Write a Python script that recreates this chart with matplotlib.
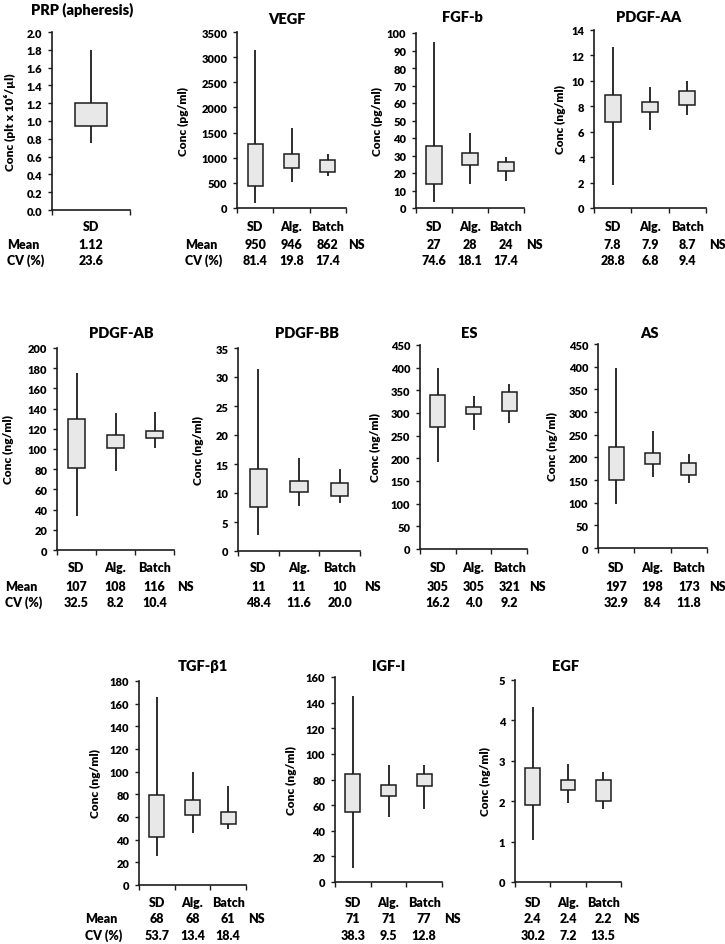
import matplotlib
matplotlib.use("Agg")
import matplotlib.pyplot as plt
from matplotlib.transforms import blended_transform_factory
from matplotlib.ticker import FormatStrFormatter
import numpy as np

plt.rcParams['font.family'] = ['Lato', 'DejaVu Sans']
WT = 800
plt.rcParams['font.weight'] = WT

W, H = 725, 945

# ---------------- data ----------------
groups = ["SD", "Alg.", "Batch"]
panels = ["PRP", "VEGF", "FGF-b", "PDGF-AA", "PDGF-AB", "PDGF-BB",
          "ES", "AS", "TGF", "IGF-I", "EGF"]
titles = {"PRP": "PRP (apheresis)", "VEGF": "VEGF", "FGF-b": "FGF-b",
          "PDGF-AA": "PDGF-AA", "PDGF-AB": "PDGF-AB", "PDGF-BB": "PDGF-BB",
          "ES": "ES", "AS": "AS", "TGF": "TGF-β1", "IGF-I": "IGF-I", "EGF": "EGF"}
ylabels = {"PRP": "Conc (plt x 10⁶/µl)", "VEGF": "Conc (pg/ml)", "FGF-b": "Conc (pg/ml)",
           "PDGF-AA": "Conc (ng/ml)", "PDGF-AB": "Conc (ng/ml)", "PDGF-BB": "Conc (ng/ml)",
           "ES": "Conc (ng/ml)", "AS": "Conc (ng/ml)", "TGF": "Conc (ng/ml)",
           "IGF-I": "Conc (ng/ml)", "EGF": "Conc (ng/ml)"}
ymax = {"PRP": 2.0, "VEGF": 3500, "FGF-b": 100, "PDGF-AA": 14, "PDGF-AB": 200,
        "PDGF-BB": 35, "ES": 450, "AS": 450, "TGF": 180, "IGF-I": 160, "EGF": 5}
ystep = {"PRP": 0.2, "VEGF": 500, "FGF-b": 10, "PDGF-AA": 2, "PDGF-AB": 20,
         "PDGF-BB": 5, "ES": 50, "AS": 50, "TGF": 20, "IGF-I": 20, "EGF": 1}

low = {"PRP": [0.75], "VEGF": [100, 510, 640], "FGF-b": [3.5, 14, 15.5],
       "PDGF-AA": [1.8, 6.15, 7.35], "PDGF-AB": [34, 78, 101], "PDGF-BB": [2.8, 7.8, 8.2],
       "ES": [192, 263, 277], "AS": [97, 157, 143], "TGF": [26, 46, 49],
       "IGF-I": [11, 51, 57], "EGF": [1.04, 1.96, 1.81]}
q1 = {"PRP": [0.94], "VEGF": [440, 800, 720], "FGF-b": [14, 24.5, 21],
      "PDGF-AA": [6.8, 7.55, 8.1], "PDGF-AB": [81, 101, 111], "PDGF-BB": [7.6, 10.2, 9.4],
      "ES": [270, 297, 304], "AS": [149, 186, 162], "TGF": [42, 62, 54],
      "IGF-I": [55, 67, 75], "EGF": [1.9, 2.28, 2.0]}
q3 = {"PRP": [1.2], "VEGF": [1280, 1070, 960], "FGF-b": [35.5, 31.5, 26.5],
      "PDGF-AA": [8.9, 8.3, 9.2], "PDGF-AB": [130, 114, 118], "PDGF-BB": [14.1, 12.0, 11.8],
      "ES": [340, 314, 347], "AS": [222, 209, 187], "TGF": [79, 75, 64],
      "IGF-I": [84, 76, 84], "EGF": [2.83, 2.52, 2.52]}
high = {"PRP": [1.8], "VEGF": [3150, 1590, 1080], "FGF-b": [95, 43, 29],
        "PDGF-AA": [12.7, 9.5, 10.0], "PDGF-AB": [175, 136, 137], "PDGF-BB": [31.3, 16.1, 14.1],
        "ES": [400, 337, 365], "AS": [396, 259, 208], "TGF": [166, 100, 87],
        "IGF-I": [145, 91, 91], "EGF": [4.32, 2.92, 2.72]}
means = {"PRP": ["1.12"], "VEGF": ["950", "946", "862"], "FGF-b": ["27", "28", "24"],
         "PDGF-AA": ["7.8", "7.9", "8.7"], "PDGF-AB": ["107", "108", "116"],
         "PDGF-BB": ["11", "11", "10"], "ES": ["305", "305", "321"],
         "AS": ["197", "198", "173"], "TGF": ["68", "68", "61"],
         "IGF-I": ["71", "71", "77"], "EGF": ["2.4", "2.4", "2.2"]}
cvs = {"PRP": ["23.6"], "VEGF": ["81.4", "19.8", "17.4"], "FGF-b": ["74.6", "18.1", "17.4"],
       "PDGF-AA": ["28.8", "6.8", "9.4"], "PDGF-AB": ["32.5", "8.2", "10.4"],
       "PDGF-BB": ["48.4", "11.6", "20.0"], "ES": ["16.2", "4.0", "9.2"],
       "AS": ["32.9", "8.4", "11.8"], "TGF": ["53.7", "13.4", "18.4"],
       "IGF-I": ["38.3", "9.5", "12.8"], "EGF": ["30.2", "7.2", "13.5"]}
significance = {"VEGF": "NS", "FGF-b": "NS", "PDGF-AA": "NS", "PDGF-AB": "NS",
                "PDGF-BB": "NS", "ES": "NS", "AS": "NS", "TGF": "NS",
                "IGF-I": "NS", "EGF": "NS"}

# ---------------- layout (pixels, top-left origin) ----------------
boxes = {"PRP": (52, 130, 33, 211), "VEGF": (237, 346, 33, 209),
         "FGF-b": (416, 524, 34, 209), "PDGF-AA": (594, 706, 31, 209),
         "PDGF-AB": (57, 174, 349, 551), "PDGF-BB": (238, 360, 349, 552),
         "ES": (420, 527, 346, 550), "AS": (598, 707, 345, 549),
         "TGF": (139, 246, 682, 886), "IGF-I": (335, 442, 678, 883),
         "EGF": (515, 621, 681, 883)}
title_pos = {"PRP": (82, 10), "VEGF": (287, 19), "FGF-b": (462, 18), "PDGF-AA": (649, 18),
             "PDGF-AB": (121, 334), "PDGF-BB": (307, 334), "ES": (469, 334), "AS": (649, 334),
             "TGF": (203, 667), "IGF-I": (389, 667), "EGF": (566, 667)}
ylabel_x = {"PRP": 10, "VEGF": 183, "FGF-b": 377, "PDGF-AA": 560, "PDGF-AB": 8,
            "PDGF-BB": 198, "ES": 375, "AS": 552, "TGF": 95, "IGF-I": 291, "EGF": 485}
row_of = {"PRP": 0, "VEGF": 0, "FGF-b": 0, "PDGF-AA": 0, "PDGF-AB": 1, "PDGF-BB": 1,
          "ES": 1, "AS": 1, "TGF": 2, "IGF-I": 2, "EGF": 2}
row_y = [(227, 245, 261), (568, 587, 603), (903, 919, 936)]
row_label_x = {"PRP": 7, "VEGF": 185, "PDGF-AB": 5, "TGF": 85}

fig = plt.figure(figsize=(W / 100, H / 100), dpi=100)
fig.patch.set_facecolor("white")

def fy(y):
    return 1 - y / H

LINE = "#1c1c1c"
FILL = "#e8e8e8"
FS_TICK = 8.0
FS_YLAB = 8.6
FS_TXT = 9.0
FS_TITLE = 10.5

for p in panels:
    l, r, t, b = boxes[p]
    ax = fig.add_axes([l / W, 1 - b / H, (r - l) / W, (b - t) / H])
    n = len(low[p])
    x = np.arange(n)
    lo = np.array(low[p]); a = np.array(q1[p]); c = np.array(q3[p]); hi = np.array(high[p])
    ax.vlines(x, lo, hi, color=LINE, lw=1.3, zorder=1)
    ax.bar(x, c - a, bottom=a, width=0.42, facecolor=FILL, edgecolor=LINE,
           linewidth=1.1, zorder=2)
    ax.set_xlim(-0.5, n - 0.5)
    ax.set_ylim(0, ymax[p])
    ax.set_yticks(np.arange(0, ymax[p] + ystep[p] / 2, ystep[p]))
    if p == "PRP":
        ax.yaxis.set_major_formatter(FormatStrFormatter("%.1f"))
    else:
        ax.yaxis.set_major_formatter(FormatStrFormatter("%d"))
    ax.set_xticks(np.arange(-0.5, n, 1.0))
    ax.set_xticklabels([])
    for s in ("top", "right"):
        ax.spines[s].set_visible(False)
    for s in ("left", "bottom"):
        ax.spines[s].set_color(LINE)
        ax.spines[s].set_linewidth(1.2)
    ax.tick_params(axis="y", direction="out", length=3, width=1.0, color=LINE,
                   labelsize=FS_TICK, pad=4)
    ax.tick_params(axis="x", direction="out", length=3.5, width=1.0, color=LINE)
    for lab in ax.get_yticklabels():
        lab.set_fontweight(WT)
    ax.set_facecolor("none")

    tx, ty = title_pos[p]
    fig.text(tx / W, fy(ty), titles[p], ha="center", va="center", fontsize=FS_TITLE,
             fontweight=WT)
    fig.text(ylabel_x[p] / W, fy((t + b) / 2), ylabels[p], rotation=90,
             ha="center", va="center", fontsize=FS_YLAB, fontweight=WT)

    tr = blended_transform_factory(ax.transData, fig.transFigure)
    yc, ym, ycv = row_y[row_of[p]]
    for i in range(n):
        ax.text(i, fy(yc), groups[i], transform=tr, ha="center", va="center",
                fontsize=FS_TXT, fontweight=WT, clip_on=False)
        ax.text(i, fy(ym), means[p][i], transform=tr, ha="center", va="center",
                fontsize=FS_TXT, fontweight=WT, clip_on=False)
        ax.text(i, fy(ycv), cvs[p][i], transform=tr, ha="center", va="center",
                fontsize=FS_TXT, fontweight=WT, clip_on=False)
    if p in significance:
        ax.text(n - 1 + 0.8, fy(ym), significance[p], transform=tr, ha="center",
                va="center", fontsize=FS_TXT, fontweight=WT, clip_on=False)
    if p in row_label_x:
        fig.text(row_label_x[p] / W, fy(ym), "Mean", ha="left", va="center",
                 fontsize=FS_TXT, fontweight=WT)
        fig.text(row_label_x[p] / W, fy(ycv), "CV (%)", ha="left", va="center",
                 fontsize=FS_TXT, fontweight=WT)

fig.savefig("out.png", dpi=100, facecolor="white")
